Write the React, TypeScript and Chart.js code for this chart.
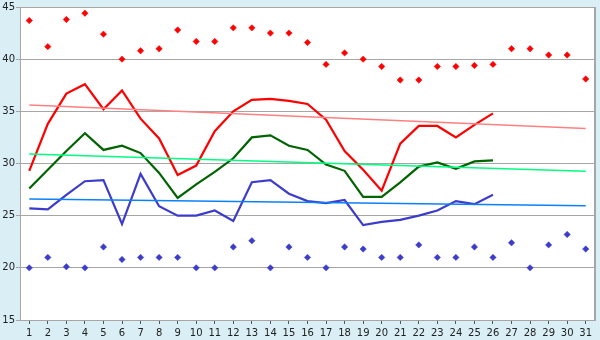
import React, { useEffect, useRef } from "react";
import { Chart, registerables } from "chart.js";

Chart.register(...registerables);

const days = Array.from({ length: 31 }, (_, i) => String(i + 1));

const maxTemp = [29.3, 33.8, 36.7, 37.6, 35.2, 37.0, 34.3, 32.4, 28.9, 29.8, 33.1, 35.0, 36.1, 36.2, 36.0, 35.7, 34.2, 31.2, 29.4, 27.4, 31.9, 33.6, 33.6, 32.5, 33.7, 34.8, null, null, null, null, null];
const meanTemp = [27.6, 29.4, 31.2, 32.9, 31.3, 31.7, 31.0, 29.1, 26.7, 28.0, 29.2, 30.5, 32.5, 32.7, 31.7, 31.3, 29.9, 29.3, 26.8, 26.8, 28.2, 29.7, 30.1, 29.5, 30.2, 30.3, null, null, null, null, null];
const minTemp = [25.7, 25.6, 27.0, 28.3, 28.4, 24.2, 29.0, 25.9, 25.0, 25.0, 25.5, 24.5, 28.2, 28.4, 27.1, 26.4, 26.2, 26.5, 24.1, 24.4, 24.6, 25.0, 25.5, 26.4, 26.1, 27.0, null, null, null, null, null];
const recordMax = [43.7, 41.2, 43.8, 44.4, 42.4, 40.0, 40.8, 41.0, 42.8, 41.7, 41.7, 43.0, 43.0, 42.5, 42.5, 41.6, 39.5, 40.6, 40.0, 39.3, 38.0, 38.0, 39.3, 39.3, 39.4, 39.5, 41.0, 41.0, 40.4, 40.4, 38.1];
const recordMin = [20.0, 21.0, 20.1, 20.0, 22.0, 20.8, 21.0, 21.0, 21.0, 20.0, 20.0, 22.0, 22.6, 20.0, 22.0, 21.0, 20.0, 22.0, 21.8, 21.0, 21.0, 22.2, 21.0, 21.0, 22.0, 21.0, 22.4, 20.0, 22.2, 23.2, 21.8];
const trendMaxEnds = [35.6, 33.35];
const trendMeanEnds = [30.9, 29.25];
const trendMinEnds = [26.6, 25.95];
const yTicks = [15, 20, 25, 30, 35, 40, 45];

function endpoints(ends: number[]) {
  return days.map((_, i) => (i === 0 ? ends[0] : i === days.length - 1 ? ends[1] : null));
}

const GRID = "#a6a6a6";

export default function App() {
  const ref = useRef<HTMLCanvasElement>(null);
  useEffect(() => {
    document.body.style.margin = "0";
    const bgPlugin = {
      id: "bg",
      beforeDraw(chart: any) {
        const { ctx, chartArea: a } = chart;
        ctx.save();
        ctx.fillStyle = "#d9eef5";
        ctx.fillRect(0, 0, chart.width, chart.height);
        ctx.fillStyle = "#ffffff";
        ctx.fillRect(a.left, a.top, a.right - a.left, a.bottom - a.top);
        ctx.restore();
      },
      beforeDatasetsDraw(chart: any) {
        const { ctx, chartArea: a } = chart;
        ctx.save();
        ctx.strokeStyle = GRID;
        ctx.lineWidth = 2;
        ctx.beginPath();
        ctx.moveTo(a.right, a.top);
        ctx.lineTo(a.right, a.bottom);
        ctx.stroke();
        ctx.restore();
      },
    };
    const line = (data: any[], color: string, width: number) => ({
      type: "line" as const,
      data,
      borderColor: color,
      backgroundColor: color,
      borderWidth: width,
      pointRadius: 0,
      tension: 0,
      spanGaps: true,
    });
    const pts = (data: any[], color: string) => ({
      type: "line" as const,
      data,
      showLine: false,
      borderColor: color,
      backgroundColor: color,
      pointStyle: "rectRot",
      pointRadius: 3.2,
      pointBorderWidth: 0.5,
    });
    const chart = new Chart(ref.current!, {
      type: "line",
      data: {
        labels: days,
        datasets: [
          pts(recordMax, "#ff0000"),
          pts(recordMin, "#3c3ccc"),
          line(endpoints(trendMaxEnds), "#ff8080", 1.5),
          line(endpoints(trendMeanEnds), "#00ff80", 1.5),
          line(endpoints(trendMinEnds), "#0a80ff", 1.5),
          { ...line(maxTemp, "#ff0000", 2.2), spanGaps: false },
          { ...line(meanTemp, "#006400", 2.2), spanGaps: false },
          { ...line(minTemp, "#3c3ccc", 2.2), spanGaps: false },
        ],
      },
      plugins: [bgPlugin],
      options: {
        animation: false,
        responsive: false,
        maintainAspectRatio: false,
        layout: { padding: { top: 5, right: 5, left: 0, bottom: 0 } },
        plugins: { legend: { display: false }, tooltip: { enabled: false } },
        scales: {
          x: {
            type: "category",
            offset: true,
            grid: { drawOnChartArea: false, drawTicks: true, tickLength: 4, offset: false, color: "#555555" },
            border: { color: GRID, width: 1 },
            ticks: { color: "#222222", font: { family: "DejaVu Sans", size: 10 }, padding: 3, maxRotation: 0, autoSkip: false },
            afterFit: (s: any) => { s.height = 20; },
          },
          y: {
            min: 15,
            max: 45,
            afterBuildTicks: (s: any) => { s.ticks = yTicks.map((v) => ({ value: v })); },
            grid: { color: GRID, tickLength: 4, lineWidth: 1 },
            border: { color: GRID, width: 1 },
            ticks: { color: "#222222", font: { family: "DejaVu Sans", size: 10 }, padding: 1 },
            afterFit: (s: any) => { s.width = 20; },
          },
        },
      },
    } as any);
    return () => chart.destroy();
  }, []);
  return (
    <div style={{ position: "absolute", left: 0, top: 0, width: 600, height: 340 }}>
      <canvas ref={ref} width={600} height={340} style={{ width: 600, height: 340, display: "block" }} />
    </div>
  );
}
